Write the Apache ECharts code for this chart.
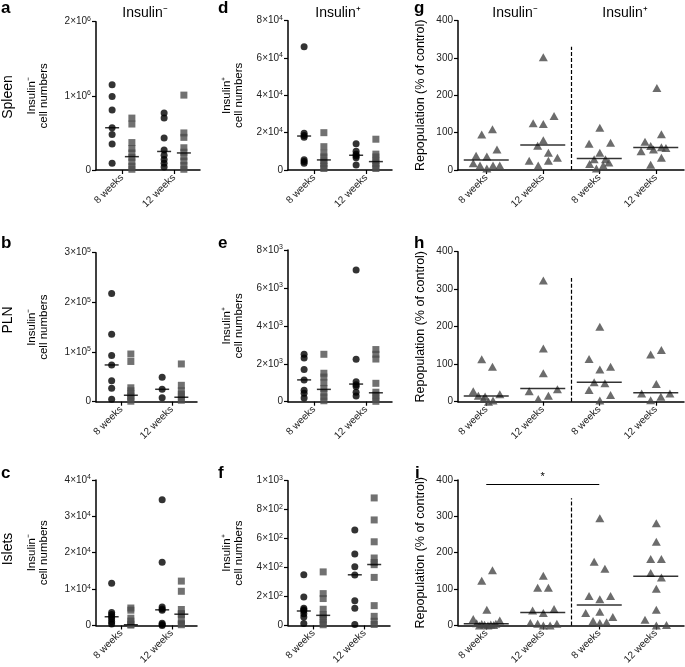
<!DOCTYPE html>
<html>
<head>
<meta charset="utf-8">
<script src="https://cdn.jsdelivr.net/npm/echarts@6/dist/echarts.min.js"></script>
<style>
  html, body { margin: 0; padding: 0; background: #fff; }
  #chart { width: 685px; height: 667px; }
</style>
</head>
<body>
<div id="chart"></div>
<script>
const weekLabels = ['8 weeks', '12 weeks'];

// a - spleen, insulin- cell numbers (circles / squares, 8 and 12 weeks)
const aCirc8 = [1150000, 990000, 810000, 570000, 480000, 350000, 90000];
const aSq8 = [700000, 620000, 370000, 290000, 230000, 170000, 110000, 50000, 10000];
const aCirc12 = [770000, 700000, 430000, 270000, 200000, 140000, 90000, 40000];
const aSq12 = [1010000, 500000, 440000, 300000, 240000, 180000, 120000, 60000, 10000];
const aMed = [570000, 180000, 250000, 230000];

// d - spleen, insulin+
const dCirc8 = [66000, 19700, 18500, 17500, 5500, 4500, 3600];
const dSq8 = [20000, 12500, 9000, 7000, 5000, 3500, 2000, 800];
const dCirc12 = [14000, 10000, 8500, 7500, 6500, 2700];
const dSq12 = [16500, 8500, 7000, 5000, 3500, 2000, 800];
const dMed = [18200, 5400, 7900, 4500];

// b - PLN, insulin-
const bCirc8 = [218000, 136000, 93000, 74000, 42000, 27000, 5000];
const bSq8 = [96000, 81000, 28000, 22000, 16000, 11000, 6000, 1000];
const bCirc12 = [49000, 25000, 8000];
const bSq12 = [76000, 33000, 22000, 15000, 9000, 3000];
const bMed = [74000, 13000, 25000, 9000];

// e - PLN, insulin+
const eCirc8 = [2500, 2300, 1700, 1150, 600, 450, 200];
const eSq8 = [2500, 1500, 1300, 1000, 700, 450, 250, 50];
const eCirc12 = [6950, 2240, 1050, 900, 800, 500, 300];
const eSq12 = [2750, 2500, 2250, 970, 500, 350, 150, 20];
const eMed = [1150, 650, 930, 470];

// c - islets, insulin-
const cCirc8 = [11600, 3600, 3000, 2400, 1800, 1000, 400];
const cSq8 = [4800, 4200, 2000, 1200, 300, 100];
const cCirc12 = [34600, 17400, 5100, 4500, 4200, 600, 300, 0];
const cSq12 = [12200, 9400, 4400, 3300, 3000, 1500, 500, 200];
const cMed = [2400, 200, 4300, 3100];

// f - islets, insulin+
const fCirc8 = [350, 197, 119, 108, 101, 81, 58, 13];
const fSq8 = [370, 220, 186, 112, 75, 60, 40, 20, 5];
const fCirc12 = [659, 493, 406, 348, 170, 119, 7];
const fSq12 = [881, 729, 578, 466, 435, 420, 332, 137, 63, 29, 7];
const fMed = [100, 70, 350, 421];

// g, h, i - repopulation (% of control), [jitter, value]
const gNeg8 = [[-0.08, 95], [0.11, 109], [0.19, 55], [-0.18, 38], [0.01, 36], [-0.23, 18], [-0.11, 12], [0.12, 12], [0.24, 12], [0.01, 4]];
const gNeg12 = [[0.01, 302], [-0.17, 125], [0.01, 123], [0.2, 145], [0.01, 80], [-0.09, 65], [0.1, 46], [-0.24, 25], [0.1, 25], [0.26, 33], [-0.08, 12]];
const gPos8 = [[0.01, 113], [-0.18, 70], [0.2, 73], [0.01, 46], [-0.09, 29], [0.11, 29], [0.17, 20], [-0.17, 16], [0.07, 12], [-0.05, 4]];
const gPos12 = [[0.02, 220], [0.1, 96], [-0.19, 76], [-0.09, 64], [0.1, 61], [0.18, 59], [-0.04, 55], [-0.26, 50], [0.1, 33], [-0.09, 14]];
const gMed = [27, 67, 31, 60];

const hNeg8 = [[-0.08, 113], [0.11, 93], [-0.23, 28], [0.24, 20], [-0.14, 16], [-0.02, 14], [-0.05, 7], [0.12, 3], [0.04, 0]];
const hNeg12 = [[0.01, 323], [0.01, 142], [0.01, 76], [0.26, 33], [-0.24, 28], [0.1, 16], [-0.08, 7]];
const hPos8 = [[0.01, 200], [-0.18, 114], [0.2, 93], [0.01, 86], [-0.09, 52], [0.1, 49], [-0.18, 31], [0.2, 18], [0.01, 3]];
const hPos12 = [[-0.09, 126], [0.1, 138], [0.01, 47], [-0.25, 22], [0.25, 22], [0.09, 13], [-0.09, 4]];
const hMed = [15, 35, 52, 24];

const iNeg8 = [[0.11, 152], [-0.08, 123], [0.01, 43], [-0.23, 18], [0.24, 14], [-0.17, 6], [0.17, 5], [-0.08, 4], [0.08, 3], [-0.03, 2], [0.13, 1], [-0.12, 0], [0.03, 0]];
const iNeg12 = [[0.01, 137], [-0.09, 104], [0.1, 104], [-0.18, 41], [0.2, 45], [0.01, 34], [-0.22, 7], [-0.09, 5], [0.01, 0], [0.13, 0], [0.25, 5]];
const iPos8 = [[0.01, 295], [-0.09, 175], [0.1, 156], [-0.18, 81], [0.2, 81], [0.01, 72], [0.01, 38], [-0.24, 34], [0.24, 23], [-0.11, 12], [0.01, 7], [0.13, 9]];
const iPos12 = [[0.01, 281], [0.01, 230], [-0.09, 183], [0.1, 183], [-0.09, 144], [0.1, 132], [0.01, 101], [0.01, 43], [-0.19, 16], [0.01, 0], [0.19, 1]];
const iMed = [5, 36, 56, 135];
const iSignif = [0.5, 2.5, 389];

const FONT = '"Liberation Sans", Arial, Helvetica, sans-serif';
const OFF = 0.19;

// 2×10{s|6} -> superscript exponent through rich text
function sci(v) {
  if (v === 0) return '0';
  const e = Math.floor(Math.log10(v) + 1e-9);
  const m = Math.round(v / Math.pow(10, e));
  return m + '×10{s|' + e + '}';
}
const sciRich = { s: { fontSize: 7, fontFamily: FONT, color: '#222', verticalAlign: 'top', lineHeight: 8 } };

const cellPanels = [
  { rect: [96, 21.7, 104, 148.3], max: 2e6, step: 1e6, name: 'Insulin⁻\ncell numbers', gap: 46, data: [aCirc8, aSq8, aCirc12, aSq12], med: aMed },
  { rect: [288, 20.7, 104, 149.3], max: 8e4, step: 2e4, name: 'Insulin⁺\ncell numbers', gap: 43, data: [dCirc8, dSq8, dCirc12, dSq12], med: dMed },
  { rect: [96, 252.7, 101, 149], max: 3e5, step: 1e5, name: 'Insulin⁻\ncell numbers', gap: 46, data: [bCirc8, bSq8, bCirc12, bSq12], med: bMed },
  { rect: [288, 250, 104, 151.7], max: 8e3, step: 2e3, name: 'Insulin⁺\ncell numbers', gap: 43, data: [eCirc8, eSq8, eCirc12, eSq12], med: eMed },
  { rect: [96, 480, 101, 149], max: 4e4, step: 1e4, name: 'Insulin⁻\ncell numbers', gap: 46, data: [cCirc8, cSq8, cCirc12, cSq12], med: cMed },
  { rect: [288, 480.7, 102, 148.6], max: 1e3, step: 2e2, name: 'Insulin⁺\ncell numbers', gap: 43, data: [fCirc8, fSq8, fCirc12, fSq12], med: fMed }
];

const repoPanels = [
  { rect: [458, 20.7, 226, 149.3], groups: [gNeg8, gNeg12, gPos8, gPos12], med: gMed, divider: 330 },
  { rect: [458, 251.7, 226, 150], groups: [hNeg8, hNeg12, hPos8, hPos12], med: hMed, divider: 330 },
  { rect: [458, 480, 226, 149.3], groups: [iNeg8, iNeg12, iPos8, iPos12], med: iMed, divider: 350, signif: iSignif }
];

const axisLine = { show: true, onZero: false, lineStyle: { color: '#000', width: 1.5 } };
const axisTick = { show: true, inside: false, length: 4, lineStyle: { color: '#000', width: 1.2 } };

const grid = [], xAxis = [], yAxis = [], series = [];

function addAxes(rect, xMax, centers, yMax, yStep, yName, yGap, yNameSize, fmt, rich) {
  const idx = grid.length;
  grid.push({ left: rect[0], top: rect[1], width: rect[2], height: rect[3], containLabel: false });
  xAxis.push({
    gridIndex: idx, type: 'value', min: 0, max: xMax,
    axisLine: axisLine,
    axisTick: Object.assign({}, axisTick, { customValues: centers }),
    axisLabel: {
      customValues: centers, rotate: 45, margin: 6, fontSize: 10, fontFamily: FONT, color: '#222',
      formatter: v => weekLabels[Math.floor(v) % 2]
    },
    splitLine: { show: false }
  });
  yAxis.push({
    gridIndex: idx, type: 'value', min: 0, max: yMax, interval: yStep,
    name: yName, nameLocation: 'middle', nameRotate: 90, nameGap: yGap,
    nameTextStyle: { fontSize: yNameSize, fontFamily: FONT, color: '#000', lineHeight: 12 },
    axisLine: axisLine, axisTick: axisTick,
    axisLabel: { fontSize: 10, fontFamily: FONT, color: '#222', margin: 5, lineHeight: 12, formatter: fmt, rich: rich },
    splitLine: { show: false }
  });
  return idx;
}

cellPanels.forEach(p => {
  const idx = addAxes(p.rect, 2, [0.5, 1.5], p.max, p.step, p.name, p.gap, 11.5, sci, sciRich);
  const circles = p.data[0].map(v => [0.5 - OFF, v]).concat(p.data[2].map(v => [1.5 - OFF, v]));
  const squares = p.data[1].map(v => [0.5 + OFF, v]).concat(p.data[3].map(v => [1.5 + OFF, v]));
  const meds = [[0.5 - OFF, p.med[0]], [0.5 + OFF, p.med[1]], [1.5 - OFF, p.med[2]], [1.5 + OFF, p.med[3]]];
  series.push({ type: 'scatter', xAxisIndex: idx, yAxisIndex: idx, clip: false, symbol: 'rect', symbolSize: 7, itemStyle: { color: '#4d4d4d' }, data: squares, z: 2 });
  series.push({ type: 'scatter', xAxisIndex: idx, yAxisIndex: idx, clip: false, symbol: 'circle', symbolSize: 7, itemStyle: { color: '#000' }, data: circles, z: 3 });
  series.push({ type: 'scatter', xAxisIndex: idx, yAxisIndex: idx, clip: false, symbol: 'rect', symbolSize: [14, 1.5], itemStyle: { color: '#000' }, data: meds, z: 4 });
});

repoPanels.forEach(p => {
  const idx = addAxes(p.rect, 4, [0.5, 1.5, 2.5, 3.5], 400, 100, 'Repopulation (% of control)', 31, 12.5, v => String(v), null);
  const pts = [];
  p.groups.forEach((g, k) => g.forEach(([dx, v]) => pts.push([k + 0.5 + dx, v])));
  const meds = p.med.map((m, k) => [k + 0.5, m]);
  const lines = [[{ coord: [2, 0], lineStyle: { type: [4, 2], color: '#000', width: 1.2 } }, { coord: [2, p.divider] }]];
  if (p.signif) {
    lines.push([
      { coord: [p.signif[0], p.signif[2]], lineStyle: { type: 'solid', color: '#000', width: 1.2 },
        label: { show: true, formatter: '*', position: 'insideMiddleTop', distance: 2, fontSize: 11, fontFamily: FONT, color: '#000' } },
      { coord: [p.signif[1], p.signif[2]] }
    ]);
  }
  series.push({
    type: 'scatter', xAxisIndex: idx, yAxisIndex: idx, clip: false, symbol: 'triangle', symbolSize: [9, 8],
    itemStyle: { color: '#474747' }, data: pts, z: 2,
    markLine: { silent: true, symbol: 'none', animation: false, label: { show: false }, data: lines }
  });
  series.push({ type: 'scatter', xAxisIndex: idx, yAxisIndex: idx, clip: false, symbol: 'rect', symbolSize: [45, 1.5], itemStyle: { color: '#000' }, data: meds, z: 4 });
});

const letters = [['a', 1, 8.5], ['d', 218, 8.5], ['g', 414, 8.5], ['b', 1, 243], ['e', 218, 243], ['h', 414, 243], ['c', 1, 473], ['f', 218, 473], ['i', 415, 473]];
const rowLabels = [['Spleen', 97], ['PLN', 320], ['Islets', 549]];
const colTitles = [['Insulin⁻', 145], ['Insulin⁺', 338], ['Insulin⁻', 515], ['Insulin⁺', 625]];

const graphic = []
  .concat(letters.map(l => ({ type: 'text', x: l[1], y: l[2], style: { text: l[0], fontSize: 17, fontWeight: 'bold', fontFamily: FONT, fill: '#000', align: 'left', verticalAlign: 'middle' } })))
  .concat(rowLabels.map(r => ({ type: 'text', x: 8, y: r[1], rotation: Math.PI / 2, style: { text: r[0], fontSize: 14, fontFamily: FONT, fill: '#000', align: 'center', verticalAlign: 'middle' } })))
  .concat(colTitles.map(t => ({ type: 'text', x: t[1], y: 13, style: { text: t[0], fontSize: 14, fontFamily: FONT, fill: '#000', align: 'center', verticalAlign: 'middle' } })));

const chart = echarts.init(document.getElementById('chart'), null, { renderer: 'canvas' });
chart.setOption({
  animation: false,
  backgroundColor: '#fff',
  grid: grid,
  xAxis: xAxis,
  yAxis: yAxis,
  series: series,
  graphic: graphic
});
</script>
</body>
</html>
